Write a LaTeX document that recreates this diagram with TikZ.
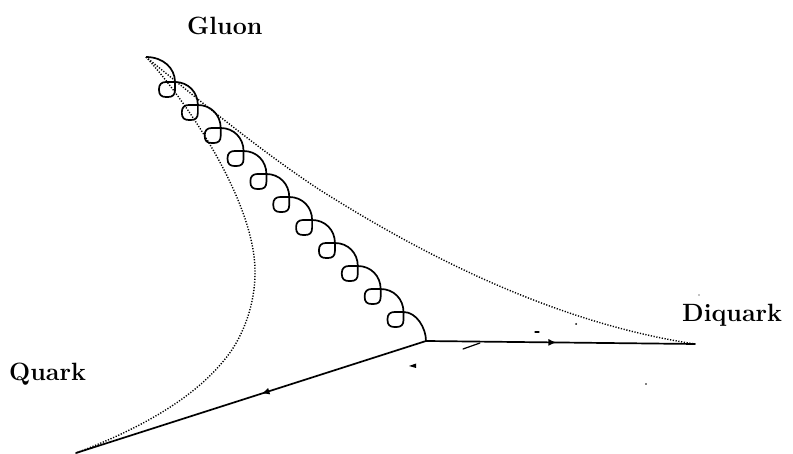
\documentclass[tikz,border=0pt]{standalone}
\usetikzlibrary{decorations.markings,arrows.meta}
\tikzset{
  px/.style={x=1pt,y=-1pt},
  label text/.style={inner sep=0pt,anchor=base west,font=\fontsize{25}{28}\selectfont\bfseries},
  fermion/.style={line width=1.7pt,line cap=round,decoration={markings,mark=at position #1 with {\arrow{Latex[length=8pt,width=7pt]}}},postaction={decorate}},
  gluonline/.style={line width=1.7pt,line join=round},
  stringline/.style={line width=1.4pt,dash pattern=on 1.2pt off 1.6pt},
  speck/.style={line width=1.2pt,line cap=round}
}
\begin{document}
\begin{tikzpicture}[px]
\useasboundingbox (0,0) rectangle (793,454);
\coordinate (top) at (146,57);
\coordinate (vertex) at (426,341);
\coordinate (diquark) at (695,344);
\coordinate (quark) at (76,453);
\node[label text] (gluonlabel) at (187,35) {Gluon};
\node[label text] (diquarklabel) at (682,322) {Diquark};
\node[label text] (quarklabel) at (9,381) {Quark};
% strings
\draw[stringline] (top) .. controls (200,101) and (262,152) .. (320,190)
  .. controls (445,269) and (570,325) .. (diquark);
\draw[stringline] (top) .. controls (190,105) and (256,205) .. (255,273)
  .. controls (255,305) and (243,335) .. (229,354)
  .. controls (200,393) and (150,425) .. (quark);
% quark lines
\draw[fermion=0.485] (vertex) -- (diquark);
\draw[fermion=0.47] (vertex) -- (quark);
% gluon
\draw[gluonline] (top) .. controls (163,57) and (175,68) .. (175,82)
  \foreach \i in {0,...,10} {
    \pgfextra{\pgfmathsetmacro{\cx}{175+22.85*\i}\pgfmathsetmacro{\cy}{82+23*\i}
      \pgfmathsetmacro{\nx}{\i<10 ? \cx+22.85 : 426}\pgfmathsetmacro{\ny}{\i<10 ? \cy+23 : 341}}
    -- (\cx,\cy+8)
    .. controls (\cx,\cy+13) and (\cx-2.5,\cy+15) .. (\cx-7,\cy+15)
    -- (\cx-9,\cy+15)
    .. controls (\cx-13.5,\cy+15) and (\cx-16,\cy+13) .. (\cx-16,\cy+8)
    -- (\cx-16,\cy+7)
    .. controls (\cx-16,\cy+2.5) and (\cx-13.5,\cy) .. (\cx-9,\cy)
    -- (\cx,\cy)
    .. controls (\cx+13,\cy) and (\nx,\ny-13) .. (\nx,\ny)
  };
% marks
\draw[speck] (463,349) -- (480,343);
\fill (409,366) -- (416,363.5) -- (416,368) -- cycle;
\draw[speck] (535,332) -- (539,332);
\fill (576,324) circle (1pt) (646,384) circle (0.8pt) (699,295) circle (0.6pt);
\end{tikzpicture}
\end{document}
